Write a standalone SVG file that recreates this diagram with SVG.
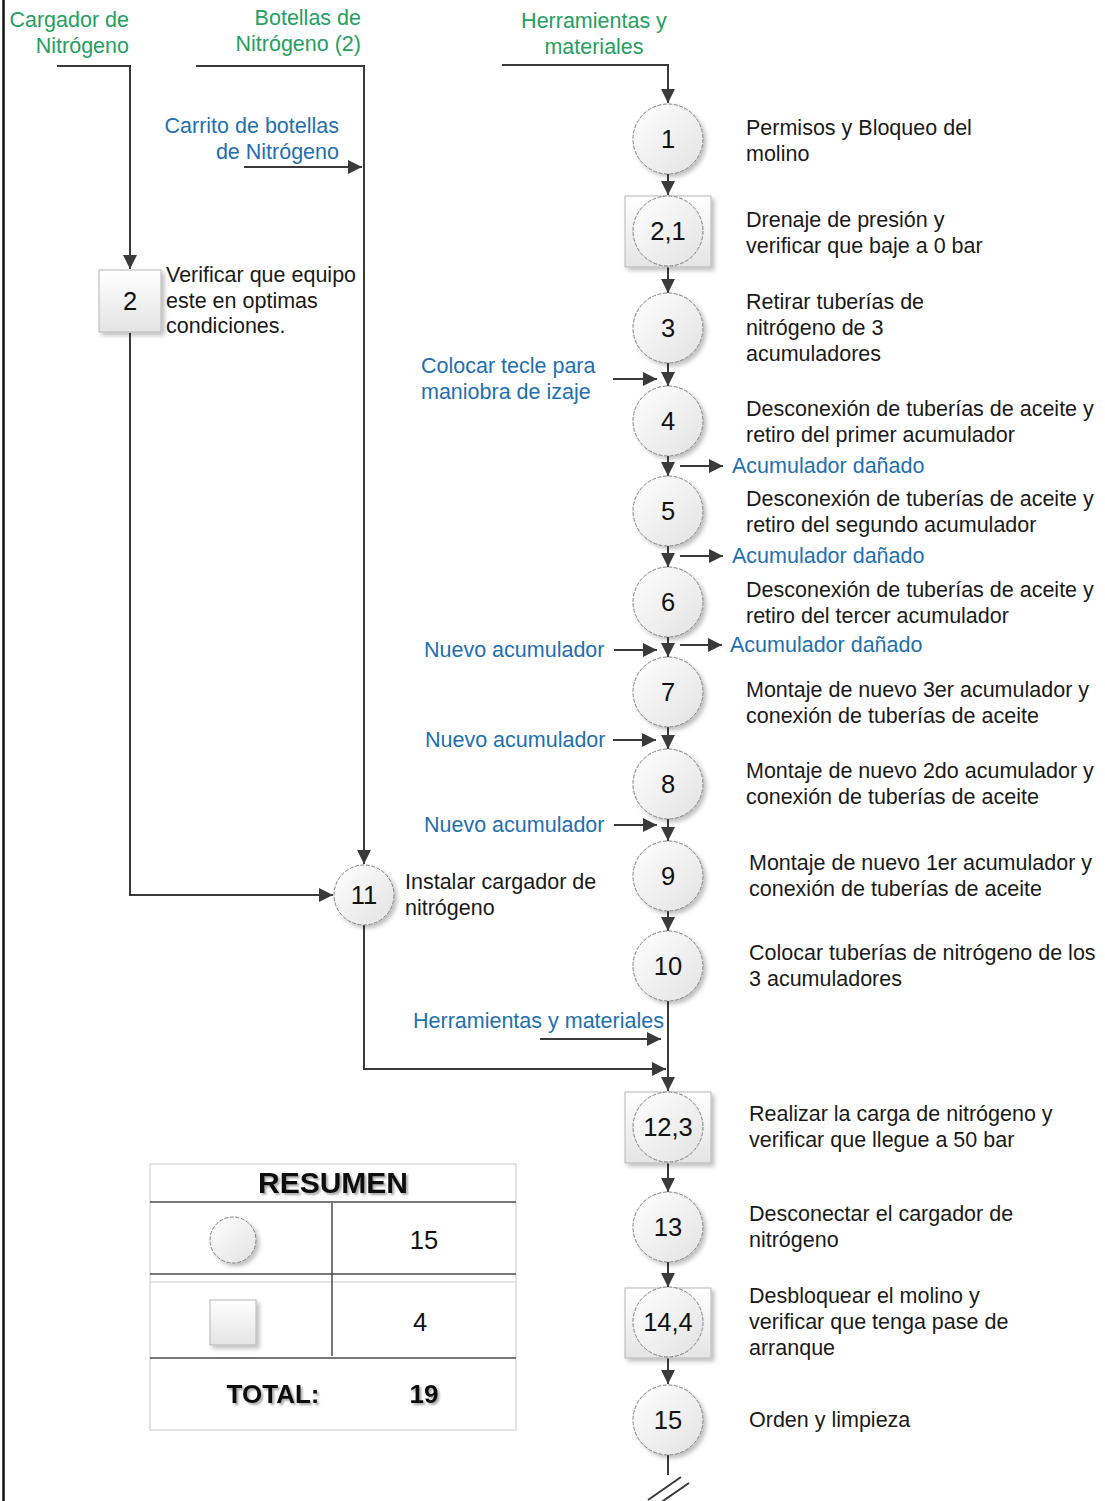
<svg xmlns="http://www.w3.org/2000/svg" width="1105" height="1501" viewBox="0 0 1105 1501">
  <defs>
    <linearGradient id="gCircle" x1="0" y1="0" x2="1" y2="1">
      <stop offset="0" stop-color="#ffffff"/>
      <stop offset="1" stop-color="#e2e2e2"/>
    </linearGradient>
    <linearGradient id="gBox" x1="0" y1="0" x2="0" y2="1">
      <stop offset="0" stop-color="#ffffff"/>
      <stop offset="1" stop-color="#e4e4e4"/>
    </linearGradient>
    <filter id="shadow" x="-20%" y="-20%" width="150%" height="150%">
      <feDropShadow dx="3" dy="3" stdDeviation="2" flood-color="#000" flood-opacity="0.25"/>
    </filter>
    <filter id="tshadow" x="-10%" y="-20%" width="130%" height="150%">
      <feDropShadow dx="2" dy="2" stdDeviation="1.2" flood-color="#000" flood-opacity="0.35"/>
    </filter>
    <marker id="arr" viewBox="0 0 10 10" refX="10" refY="5" markerWidth="15" markerHeight="14" markerUnits="userSpaceOnUse" orient="auto">
      <path d="M0,0 L10,5 L0,10 Z" fill="#3a3a3a"/>
    </marker>
  </defs>
  <style>
    text { font-family: "Liberation Sans", Arial, sans-serif; }
    .num { font-size: 25.5px; fill: #111; text-anchor: middle; dominant-baseline: central; }
    .desc { font-size: 21.5px; fill: #1a1a1a; dominant-baseline: central; }
    .green { font-size: 21.5px; fill: #25a05f; dominant-baseline: central; }
    .blue { font-size: 21.5px; fill: #1f70b0; dominant-baseline: central; }
    .circ { fill: url(#gCircle); stroke: #808080; stroke-width: 1; stroke-dasharray: 4 1.5; filter: url(#shadow); }
    .box { fill: url(#gBox); stroke: #b5b5b5; stroke-width: 1; filter: url(#shadow); }
    .conn { fill: none; stroke: #3a3a3a; stroke-width: 2; }
    .tbl { fill: none; stroke: #dcdcdc; stroke-width: 1.5; }
    .tline { stroke: #4a4a4a; stroke-width: 1.5; }
    .bold { font-size: 30px; font-weight: bold; fill: #111; text-anchor: middle; dominant-baseline: central; filter: url(#tshadow); }
  </style>

  <rect x="0" y="0" width="1105" height="1501" fill="#ffffff"/>
  <!-- left frame edge -->
  <line x1="3.5" y1="0" x2="3.5" y2="1501" stroke="#111" stroke-width="2.5"/>

  <!-- input labels -->
  <g id="inputs">
    <text class="green" x="129" y="20" text-anchor="end">Cargador de</text>
    <text class="green" x="129" y="46" text-anchor="end">Nitrógeno</text>
    <text class="green" x="361" y="18" text-anchor="end">Botellas de</text>
    <text class="green" x="361" y="44" text-anchor="end">Nitrógeno (2)</text>
    <text class="green" x="594" y="21" text-anchor="middle">Herramientas y</text>
    <text class="green" x="594" y="47" text-anchor="middle">materiales</text>
    <text class="blue" x="339" y="126" text-anchor="end">Carrito de botellas</text>
    <text class="blue" x="339" y="152" text-anchor="end">de Nitrógeno</text>
    <text class="blue" x="421" y="366">Colocar tecle para</text>
    <text class="blue" x="421" y="392">maniobra de izaje</text>
    <text class="blue" x="732" y="466">Acumulador dañado</text>
    <text class="blue" x="732" y="556">Acumulador dañado</text>
    <text class="blue" x="730" y="645">Acumulador dañado</text>
    <text class="blue" x="424" y="650">Nuevo acumulador</text>
    <text class="blue" x="425" y="740">Nuevo acumulador</text>
    <text class="blue" x="424" y="825">Nuevo acumulador</text>
    <text class="blue" x="413" y="1021">Herramientas y materiales</text>
  </g>

  <!-- connectors -->
  <g id="connectors">
    <path class="conn" d="M57,66 H130 V269" marker-end="url(#arr)"/>
    <path class="conn" d="M196,66 H364 V864" marker-end="url(#arr)"/>
    <path class="conn" d="M244,167 H362" marker-end="url(#arr)"/>
    <path class="conn" d="M130,333 V895 H333" marker-end="url(#arr)"/>
    <path class="conn" d="M502,65 H668 V103" marker-end="url(#arr)"/>
    <path class="conn" d="M668,174 V195" marker-end="url(#arr)"/>
    <path class="conn" d="M668,267 V293" marker-end="url(#arr)"/>
    <path class="conn" d="M668,363 V386" marker-end="url(#arr)"/>
    <path class="conn" d="M613,379 H657" marker-end="url(#arr)"/>
    <path class="conn" d="M668,456 V476" marker-end="url(#arr)"/>
    <path class="conn" d="M680,466 H723" marker-end="url(#arr)"/>
    <path class="conn" d="M668,546 V567" marker-end="url(#arr)"/>
    <path class="conn" d="M680,556 H723" marker-end="url(#arr)"/>
    <path class="conn" d="M668,637 V657" marker-end="url(#arr)"/>
    <path class="conn" d="M680,645 H722" marker-end="url(#arr)"/>
    <path class="conn" d="M614,650 H657" marker-end="url(#arr)"/>
    <path class="conn" d="M668,727 V749" marker-end="url(#arr)"/>
    <path class="conn" d="M613,740 H656" marker-end="url(#arr)"/>
    <path class="conn" d="M668,819 V841" marker-end="url(#arr)"/>
    <path class="conn" d="M614,825 H657" marker-end="url(#arr)"/>
    <path class="conn" d="M668,911 V931" marker-end="url(#arr)"/>
    <path class="conn" d="M668,1001 V1091" marker-end="url(#arr)"/>
    <path class="conn" d="M540,1039 H661" marker-end="url(#arr)"/>
    <path class="conn" d="M364,925 V1069 H666" marker-end="url(#arr)"/>
    <path class="conn" d="M668,1163 V1192" marker-end="url(#arr)"/>
    <path class="conn" d="M668,1262 V1287" marker-end="url(#arr)"/>
    <path class="conn" d="M668,1358 V1384" marker-end="url(#arr)"/>
    <path class="conn" d="M668,1455 V1475"/>
    <path class="conn" d="M648,1500 L681,1477 M660,1503 L689,1483"/>
  </g>

  <!-- operations on main line -->
  <g id="n1"><circle class="circ" cx="668" cy="139" r="35"/><text class="num" x="668" y="139">1</text>
    <text class="desc" x="746" y="128">Permisos y Bloqueo del</text><text class="desc" x="746" y="154">molino</text></g>
  <g id="n2_1"><rect class="box" x="625" y="196" width="86" height="71"/><circle cx="668" cy="231" r="35" fill="url(#gCircle)" stroke="#808080" stroke-width="1" stroke-dasharray="4 1.5"/><text class="num" x="668" y="231">2,1</text>
    <text class="desc" x="746" y="220">Drenaje de presión y</text><text class="desc" x="746" y="246">verificar que baje a 0 bar</text></g>
  <g id="n3"><circle class="circ" cx="668" cy="328" r="35"/><text class="num" x="668" y="328">3</text>
    <text class="desc" x="746" y="302">Retirar tuberías de</text><text class="desc" x="746" y="328">nitrógeno de 3</text><text class="desc" x="746" y="354">acumuladores</text></g>
  <g id="n4"><circle class="circ" cx="668" cy="421" r="35"/><text class="num" x="668" y="421">4</text>
    <text class="desc" x="746" y="409">Desconexión de tuberías de aceite y</text><text class="desc" x="746" y="435">retiro del primer acumulador</text></g>
  <g id="n5"><circle class="circ" cx="668" cy="511" r="35"/><text class="num" x="668" y="511">5</text>
    <text class="desc" x="746" y="499">Desconexión de tuberías de aceite y</text><text class="desc" x="746" y="525">retiro del segundo acumulador</text></g>
  <g id="n6"><circle class="circ" cx="668" cy="602" r="35"/><text class="num" x="668" y="602">6</text>
    <text class="desc" x="746" y="590">Desconexión de tuberías de aceite y</text><text class="desc" x="746" y="616">retiro del tercer acumulador</text></g>
  <g id="n7"><circle class="circ" cx="668" cy="692" r="35"/><text class="num" x="668" y="692">7</text>
    <text class="desc" x="746" y="690">Montaje de nuevo 3er acumulador y</text><text class="desc" x="746" y="716">conexión de tuberías de aceite</text></g>
  <g id="n8"><circle class="circ" cx="668" cy="784" r="35"/><text class="num" x="668" y="784">8</text>
    <text class="desc" x="746" y="771">Montaje de nuevo 2do acumulador y</text><text class="desc" x="746" y="797">conexión de tuberías de aceite</text></g>
  <g id="n9"><circle class="circ" cx="668" cy="876" r="35"/><text class="num" x="668" y="876">9</text>
    <text class="desc" x="749" y="863">Montaje de nuevo 1er acumulador y</text><text class="desc" x="749" y="889">conexión de tuberías de aceite</text></g>
  <g id="n10"><circle class="circ" cx="668" cy="966" r="35"/><text class="num" x="668" y="966">10</text>
    <text class="desc" x="749" y="953">Colocar tuberías de nitrógeno de los</text><text class="desc" x="749" y="979">3 acumuladores</text></g>
  <g id="n12_3"><rect class="box" x="625" y="1092" width="86" height="71"/><circle cx="668" cy="1127" r="35" fill="url(#gCircle)" stroke="#808080" stroke-width="1" stroke-dasharray="4 1.5"/><text class="num" x="668" y="1127">12,3</text>
    <text class="desc" x="749" y="1114">Realizar la carga de nitrógeno y</text><text class="desc" x="749" y="1140">verificar que llegue a 50 bar</text></g>
  <g id="n13"><circle class="circ" cx="668" cy="1227" r="35"/><text class="num" x="668" y="1227">13</text>
    <text class="desc" x="749" y="1214">Desconectar el cargador de</text><text class="desc" x="749" y="1240">nitrógeno</text></g>
  <g id="n14_4"><rect class="box" x="625" y="1288" width="86" height="70"/><circle cx="668" cy="1322" r="35" fill="url(#gCircle)" stroke="#808080" stroke-width="1" stroke-dasharray="4 1.5"/><text class="num" x="668" y="1322">14,4</text>
    <text class="desc" x="749" y="1296">Desbloquear el molino y</text><text class="desc" x="749" y="1322">verificar que tenga pase de</text><text class="desc" x="749" y="1348">arranque</text></g>
  <g id="n15"><circle class="circ" cx="668" cy="1420" r="35"/><text class="num" x="668" y="1420">15</text>
    <text class="desc" x="749" y="1420">Orden y limpieza</text></g>

  <!-- side branch -->
  <g id="n2"><rect class="box" x="99" y="270" width="62" height="62"/><text class="num" x="130" y="301">2</text>
    <text class="desc" x="166" y="275">Verificar que equipo</text><text class="desc" x="166" y="301">este en optimas</text><text class="desc" x="166" y="326">condiciones.</text></g>
  <g id="n11"><circle class="circ" cx="364" cy="895" r="30"/><text class="num" x="364" y="895">11</text>
    <text class="desc" x="405" y="882">Instalar cargador de</text><text class="desc" x="405" y="908">nitrógeno</text></g>

  <!-- summary table -->
  <g id="resumen">
    <rect class="tbl" x="150" y="1164" width="366" height="266"/>
    <line class="tbl" x1="150" y1="1282" x2="516" y2="1282"/>
    <line class="tline" x1="150" y1="1202" x2="516" y2="1202"/>
    <line class="tline" x1="150" y1="1274" x2="516" y2="1274"/>
    <line class="tline" x1="150" y1="1358" x2="516" y2="1358"/>
    <line class="tline" x1="332" y1="1203" x2="332" y2="1356"/>
    <text class="bold" x="333" y="1182">RESUMEN</text>
    <circle class="circ" cx="233" cy="1240" r="23"/>
    <text class="num" x="424" y="1240">15</text>
    <rect class="box" x="210" y="1300" width="46" height="45"/>
    <text class="num" x="420" y="1322">4</text>
    <text class="bold" x="273" y="1394" style="font-size:26px">TOTAL:</text>
    <text class="bold" x="424" y="1394" style="font-size:26px">19</text>
  </g>
</svg>
